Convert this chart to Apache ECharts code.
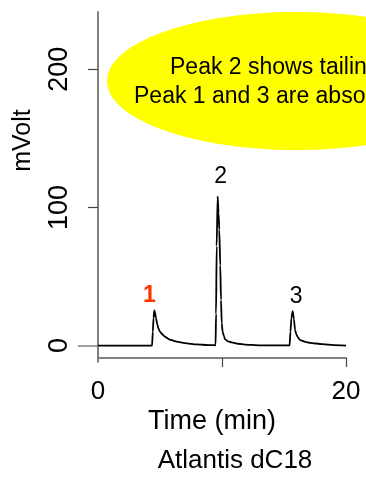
<!DOCTYPE html>
<html>
<head>
<meta charset="utf-8">
<script src="https://cdn.jsdelivr.net/npm/echarts@6/dist/echarts.min.js"></script>
<style>
  html, body { margin: 0; padding: 0; background: #fff; }
  #chart { width: 366px; height: 479px; }
</style>
</head>
<body>
<div id="chart"></div>
<script>
// Chromatogram trace: retention time (min) and detector signal (mV)
const timeMin = [
  0, 4.36, 4.42, 4.48, 4.54, 4.6, 4.68, 4.78, 4.87, 5.0, 5.2, 5.4, 5.8, 6.35, 7.0, 7.96, 9.0,
  9.48, 9.52, 9.57, 9.65, 9.72, 9.78, 9.86, 9.92, 9.98, 10.05, 10.15, 10.24, 10.5, 10.78, 11.3, 11.85, 13.0,
  15.45, 15.52, 15.6, 15.7, 15.8, 15.89, 16.0, 16.15, 16.3, 16.7, 17.1, 18.1, 19.0, 20
];
const signalMv = [
  0, 0, 10, 20, 25.5, 24, 19.7, 15.5, 12.5, 10, 8, 6.4, 4.3, 2.8, 1.7, 0.9, 0.3,
  0.2, 23, 72, 108, 96, 84, 58, 33, 16, 10, 7, 4.5, 3, 2.3, 1.3, 0.7, 0.2,
  0.1, 10, 20, 25, 19, 11.5, 8, 5.5, 4, 2.7, 2, 1, 0.3, 0
];

// Peak annotations
const peakNames = ['1', '2', '3'];
const peakTimes = [4.54, 9.65, 15.7];

// Axis ticks and labels
const xTicks = [10, 20];
const xTickLabels = [0, 20];
const yTicks = [100, 200];
const yTickLabels = [0, 100, 200];

// Texts
const xTitle = 'Time (min)';
const yTitle = 'mVolt';
const columnName = 'Atlantis dC18';
const noteLines = ['Peak 2 shows tailing', 'Peak 1 and 3 are absolutely symmetric'];

const FONT = '"Liberation Sans", Arial, Helvetica, sans-serif';

const trace = timeMin.map((t, i) => [t, signalMv[i]]);

// Per-peak label styling (colour, weight, nudge from the apex)
const peakLabelStyle = [
  { color: '#ff3300', fontWeight: 'bold', offset: [-5, 0], distance: 3 },
  { color: '#000', fontWeight: 'normal', offset: [3, -5], distance: 3 },
  { color: '#000', fontWeight: 'normal', offset: [3.5, 0], distance: 3 }
];
const peakPoints = peakNames.map((name, k) => {
  const idx = timeMin.indexOf(peakTimes[k]);
  const st = peakLabelStyle[k];
  return {
    name: name,
    value: [timeMin[idx], signalMv[idx]],
    label: {
      show: true, position: 'top', formatter: name,
      distance: st.distance, offset: st.offset, opacity: 1,
      color: st.color, fontWeight: st.fontWeight, fontSize: 23, fontFamily: FONT
    }
  };
});

const chart = echarts.init(document.getElementById('chart'), null, { renderer: 'canvas' });

chart.setOption({
  animation: false,
  backgroundColor: '#fff',
  textStyle: { fontFamily: FONT },
  grid: { left: 98, right: 20, top: 12, bottom: 121, containLabel: false, outerBoundsMode: 'none' },
  xAxis: [
    {
      type: 'value', min: 0, max: 20, position: 'bottom',
      axisLine: { show: true, onZero: false, lineStyle: { color: '#808080', width: 2 } },
      axisTick: { show: true, customValues: xTicks, length: 9, lineStyle: { color: '#444', width: 1.2 } },
      axisLabel: { show: true, customValues: xTickLabels, margin: 21, fontSize: 26, color: '#000', fontFamily: FONT },
      splitLine: { show: false }
    },
    {
      type: 'value', min: 0, max: 20, position: 'bottom',
      axisLine: { show: false },
      axisTick: { show: true, customValues: [0], length: 17, lineStyle: { color: '#808080', width: 2 } },
      axisLabel: { show: false },
      splitLine: { show: false }
    }
  ],
  yAxis: [
    {
      type: 'value', min: -9, max: 241.5, position: 'left',
      axisLine: { show: true, onZero: false, lineStyle: { color: '#808080', width: 2 } },
      axisTick: { show: true, customValues: yTicks, length: 10, lineStyle: { color: '#444', width: 1.2 } },
      axisLabel: { show: true, customValues: yTickLabels, rotate: 90, margin: 25, fontSize: 27, color: '#000', fontFamily: FONT },
      splitLine: { show: false }
    },
    {
      type: 'value', min: -9, max: 241.5, position: 'left',
      axisLine: { show: false },
      axisTick: { show: true, customValues: [0], length: 20, lineStyle: { color: '#808080', width: 1.5 } },
      axisLabel: { show: false },
      splitLine: { show: false }
    }
  ],
  series: [
    {
      type: 'line', xAxisIndex: 0, yAxisIndex: 0,
      data: trace, symbol: 'none', showSymbol: false,
      smooth: 0.2, smoothMonotone: 'x',
      lineStyle: { color: '#000', width: 1.8 },
      silent: true, z: 3
    },
    {
      type: 'scatter', xAxisIndex: 0, yAxisIndex: 0,
      data: peakPoints, symbolSize: 0, silent: true, z: 4,
      itemStyle: { opacity: 1 }
    }
  ],
  graphic: [
    { type: 'ellipse', shape: { cx: 297, cy: 81, rx: 190, ry: 69 }, style: { fill: '#ffff00' }, z: 1, silent: true },
    { type: 'text', x: 170, y: 68, z: 2, silent: true,
      style: { text: noteLines[0], font: '23px ' + FONT, fill: '#000', textAlign: 'left', textVerticalAlign: 'middle', align: 'left', verticalAlign: 'middle' } },
    { type: 'text', x: 134, y: 96.5, z: 2, silent: true,
      style: { text: noteLines[1], font: '23px ' + FONT, fill: '#000', textAlign: 'left', textVerticalAlign: 'middle', align: 'left', verticalAlign: 'middle' } },
    { type: 'text', x: 23, y: 140.5, rotation: Math.PI / 2, silent: true,
      style: { text: yTitle, font: '25px ' + FONT, fill: '#000', textAlign: 'center', textVerticalAlign: 'middle', align: 'center', verticalAlign: 'middle' } },
    { type: 'text', x: 212, y: 422, silent: true,
      style: { text: xTitle, font: '27px ' + FONT, fill: '#000', textAlign: 'center', textVerticalAlign: 'middle', align: 'center', verticalAlign: 'middle' } },
    { type: 'text', x: 235, y: 460.5, silent: true,
      style: { text: columnName, font: '26px ' + FONT, fill: '#000', textAlign: 'center', textVerticalAlign: 'middle', align: 'center', verticalAlign: 'middle' } }
  ]
});
</script>
</body>
</html>
